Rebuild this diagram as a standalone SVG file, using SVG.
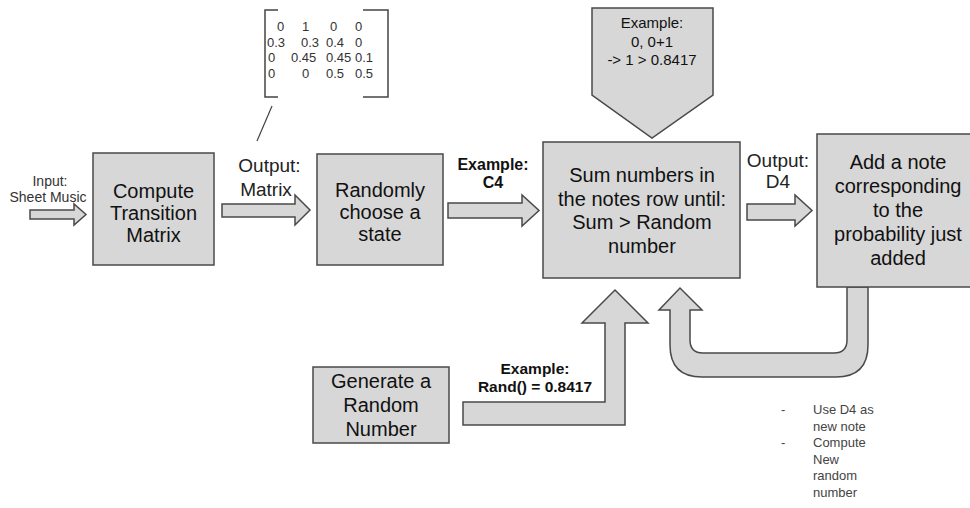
<svg xmlns="http://www.w3.org/2000/svg" width="970" height="508" viewBox="0 0 970 508">
<style>
.box{fill:#d7d7d7;stroke:#4a4a4a;stroke-width:1.5}
.arr{fill:#d7d7d7;stroke:#4a4a4a;stroke-width:1.5;stroke-linejoin:miter}
.t{font-family:"Liberation Sans",Arial,sans-serif;font-size:20px;fill:#111;text-anchor:middle}
.lbl{font-family:"Liberation Sans",Arial,sans-serif;font-size:19px;fill:#222;text-anchor:middle}
.bl{font-family:"Liberation Sans",Arial,sans-serif;font-weight:bold;fill:#111;text-anchor:middle}
.sm{font-family:"Liberation Sans",Arial,sans-serif;font-size:14px;fill:#333;text-anchor:middle}
.mx{font-family:"Liberation Sans",Arial,sans-serif;font-size:13px;fill:#333}
.bu{font-family:"Liberation Sans",Arial,sans-serif;font-size:13px;fill:#444}
</style>
<rect width="970" height="508" fill="#fff"/>

<g id="connectors">
  <polygon class="arr" points="30,210 74,210 74,204 86,214.5 74,225 74,219 30,219"/>
  <polygon class="arr" points="222,204 295,204 295,195 310,210 295,225 295,217 222,217"/>
  <polygon class="arr" points="448,203 522,203 522,195 539,210.5 522,226 522,218 448,218"/>
  <polygon class="arr" points="747,204 795,204 795,195 812,210.5 795,226 795,220 747,220"/>
  <polygon class="arr" points="463,402 605,402 605,323 582,323 615,290 648,323 625,323 625,425 463,425"/>
  <path class="arr" d="M847,287 L847,340 Q847,353 834,353 L703,353 Q690,353 690,340 L690,310 L702,310 L680,288 L659,310 L670,310 L670,345 Q670,377 702,377 L836,377 Q868,377 868,345 L868,287 Z"/>
  <line x1="272" y1="106" x2="257" y2="141" stroke="#444" stroke-width="1.2"/>
</g>

<g id="input-label">
  <text class="sm" x="50" y="186">Input:</text>
  <text class="sm" x="48" y="202">Sheet Music</text>
</g>

<g id="compute-matrix">
  <rect class="box" x="93" y="153" width="121" height="112"/>
  <text class="t" x="153.5" y="198">Compute</text>
  <text class="t" x="153.5" y="220">Transition</text>
  <text class="t" x="153.5" y="242">Matrix</text>
</g>

<g id="matrix">
  <path d="M278,10 L265,10 L265,97 L278,97" fill="none" stroke="#444" stroke-width="1.5"/>
  <path d="M363,10 L388,10 L388,97 L363,97" fill="none" stroke="#444" stroke-width="1.5"/>
  <text class="mx" x="277" y="31">0</text><text class="mx" x="302" y="31">1</text><text class="mx" x="330" y="31">0</text><text class="mx" x="355" y="31">0</text>
  <text class="mx" x="267" y="47">0.3</text><text class="mx" x="301" y="47">0.3</text><text class="mx" x="326" y="47">0.4</text><text class="mx" x="355" y="47">0</text>
  <text class="mx" x="268" y="62">0</text><text class="mx" x="291" y="62">0.45</text><text class="mx" x="326" y="62">0.45</text><text class="mx" x="355" y="62">0.1</text>
  <text class="mx" x="268" y="78">0</text><text class="mx" x="302" y="78">0</text><text class="mx" x="326" y="78">0.5</text><text class="mx" x="355" y="78">0.5</text>
</g>

<g id="output-matrix-label">
  <text class="lbl" x="269.5" y="172">Output:</text>
  <text class="lbl" x="266" y="196">Matrix</text>
</g>

<g id="choose-state">
  <rect class="box" x="317" y="154" width="126" height="111"/>
  <text class="t" x="380" y="197">Randomly</text>
  <text class="t" x="380" y="219">choose a</text>
  <text class="t" x="380" y="241">state</text>
</g>

<g id="example-c4">
  <text class="bl" x="493" y="170" font-size="16">Example:</text>
  <text class="bl" x="493" y="188" font-size="16">C4</text>
</g>

<g id="example-top">
  <polygon class="box" points="592,8 713,8 713,95 652,138 592,95"/>
  <text class="t" x="652" y="28" style="font-size:15px">Example:</text>
  <text class="t" x="652" y="47" style="font-size:15px">0, 0+1</text>
  <text class="t" x="652" y="65" style="font-size:15px">-&gt; 1 &gt; 0.8417</text>
</g>

<g id="sum-numbers">
  <rect class="box" x="543" y="142" width="197" height="136"/>
  <text class="t" x="642" y="182">Sum numbers in</text>
  <text class="t" x="642" y="205.5">the notes row until:</text>
  <text class="t" x="642" y="229">Sum &gt; Random</text>
  <text class="t" x="642" y="252.5">number</text>
</g>

<g id="output-d4-label">
  <text class="lbl" x="778" y="167">Output:</text>
  <text class="lbl" x="778" y="188">D4</text>
</g>

<g id="add-note">
  <rect class="box" x="817" y="134" width="160" height="153"/>
  <text class="t" x="898" y="169">Add a note</text>
  <text class="t" x="898" y="193">corresponding</text>
  <text class="t" x="898" y="217">to the</text>
  <text class="t" x="898" y="241">probability just</text>
  <text class="t" x="898" y="265">added</text>
</g>

<g id="generate-random">
  <rect class="box" x="313" y="367" width="136" height="76"/>
  <text class="t" x="381" y="388">Generate a</text>
  <text class="t" x="381" y="412">Random</text>
  <text class="t" x="381" y="436">Number</text>
</g>

<g id="example-rand">
  <text class="bl" x="535" y="374" font-size="15.5">Example:</text>
  <text class="bl" x="535" y="392" font-size="15.5">Rand() = 0.8417</text>
</g>

<g id="notes">
  <text class="bu" x="781" y="414">-</text>
  <text class="bu" x="813" y="414">Use D4 as</text>
  <text class="bu" x="813" y="430.5">new note</text>
  <text class="bu" x="781" y="447">-</text>
  <text class="bu" x="813" y="447">Compute</text>
  <text class="bu" x="813" y="463.5">New</text>
  <text class="bu" x="813" y="480">random</text>
  <text class="bu" x="813" y="496.5">number</text>
</g>
</svg>
